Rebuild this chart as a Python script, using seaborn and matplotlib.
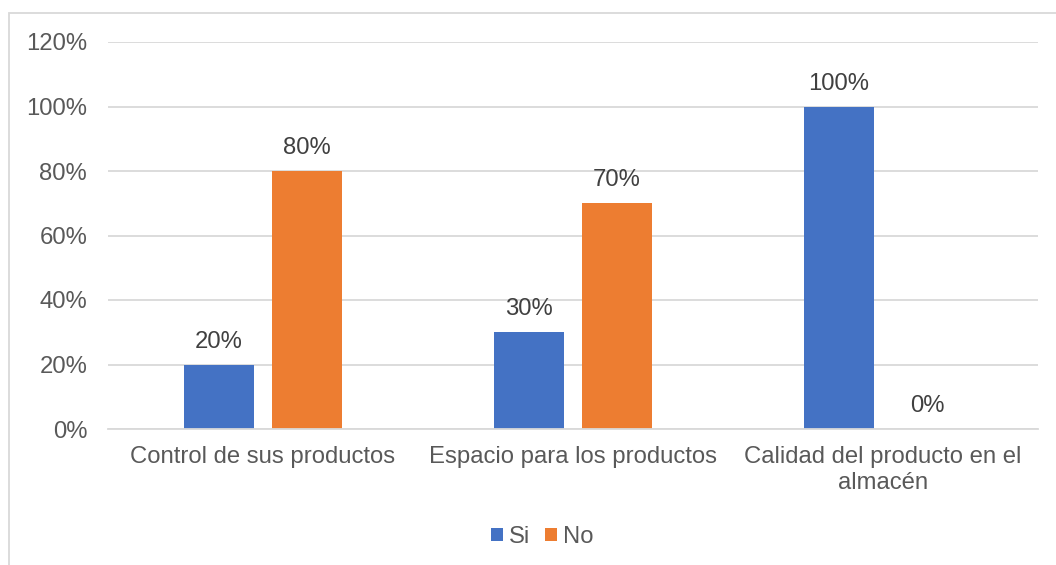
import matplotlib
matplotlib.use("Agg")

import matplotlib.pyplot as plt
import pandas as pd
import seaborn as sns
from matplotlib.patches import Rectangle

categories = ["Control de sus productos", "Espacio para los productos",
              "Calidad del producto en el\nalmacén"]
si_values = [20, 30, 100]
no_values = [80, 70, 0]
series = ["Si", "No"]
colors = ["#4472C4", "#ED7D31"]
y_ticks = [0, 20, 40, 60, 80, 100, 120]

df = pd.DataFrame({
    "categoria": categories * 2,
    "respuesta": ["Si"] * 3 + ["No"] * 3,
    "valor": si_values + no_values,
})

sns.set_style("white")
plt.rcParams["font.family"] = ["Liberation Sans", "DejaVu Sans"]
fs = 17.2

fig = plt.figure(figsize=(10.56, 5.65), dpi=100)
ax = fig.add_axes([108 / 1056, 136 / 565, 930 / 1056, 387 / 565])

sns.barplot(data=df, x="categoria", y="valor", hue="respuesta",
            hue_order=series, palette=colors, saturation=1, width=0.568,
            gap=0.2, linewidth=0, errorbar=None, ax=ax)

for cont in ax.containers:
    labels = [f"{b.get_height():.0f}%" for b in cont]
    ax.bar_label(cont, labels=labels, padding=8.5, fontsize=fs, color="#404040")

ax.set_ylim(0, 120)
ax.set_xlim(-0.5, 2.5)
ax.set_yticks(y_ticks)
ax.set_yticklabels([f"{t}%" for t in y_ticks])
ax.yaxis.grid(True, color="#D9D9D9", linewidth=1.3)
ax.set_axisbelow(True)
for s in ["top", "right", "left"]:
    ax.spines[s].set_visible(False)
ax.spines["bottom"].set_color("#D9D9D9")
ax.spines["bottom"].set_linewidth(1.3)
ax.tick_params(axis="y", length=0, pad=15, labelsize=fs, labelcolor="#595959")
ax.tick_params(axis="x", length=0, pad=12.5, labelsize=fs, labelcolor="#595959")
ax.set_xlabel("")
ax.set_ylabel("")

handles, lbls = ax.get_legend_handles_labels()
ax.legend(handles, lbls, loc="center", bbox_to_anchor=(542 / 1056, 1 - 537 / 565),
          bbox_transform=fig.transFigure, ncol=2, frameon=False,
          handlelength=0.5, handleheight=0.5, handletextpad=0.25,
          columnspacing=0.62, fontsize=fs, labelcolor="#595959")

fig.patches.append(Rectangle((9 / 1056, -0.1), 1.2, 1.1 - 13 / 565,
                             transform=fig.transFigure, fill=False,
                             edgecolor="#D9D9D9", linewidth=1.3))

fig.savefig("out.png", dpi=100)
plt.close(fig)
